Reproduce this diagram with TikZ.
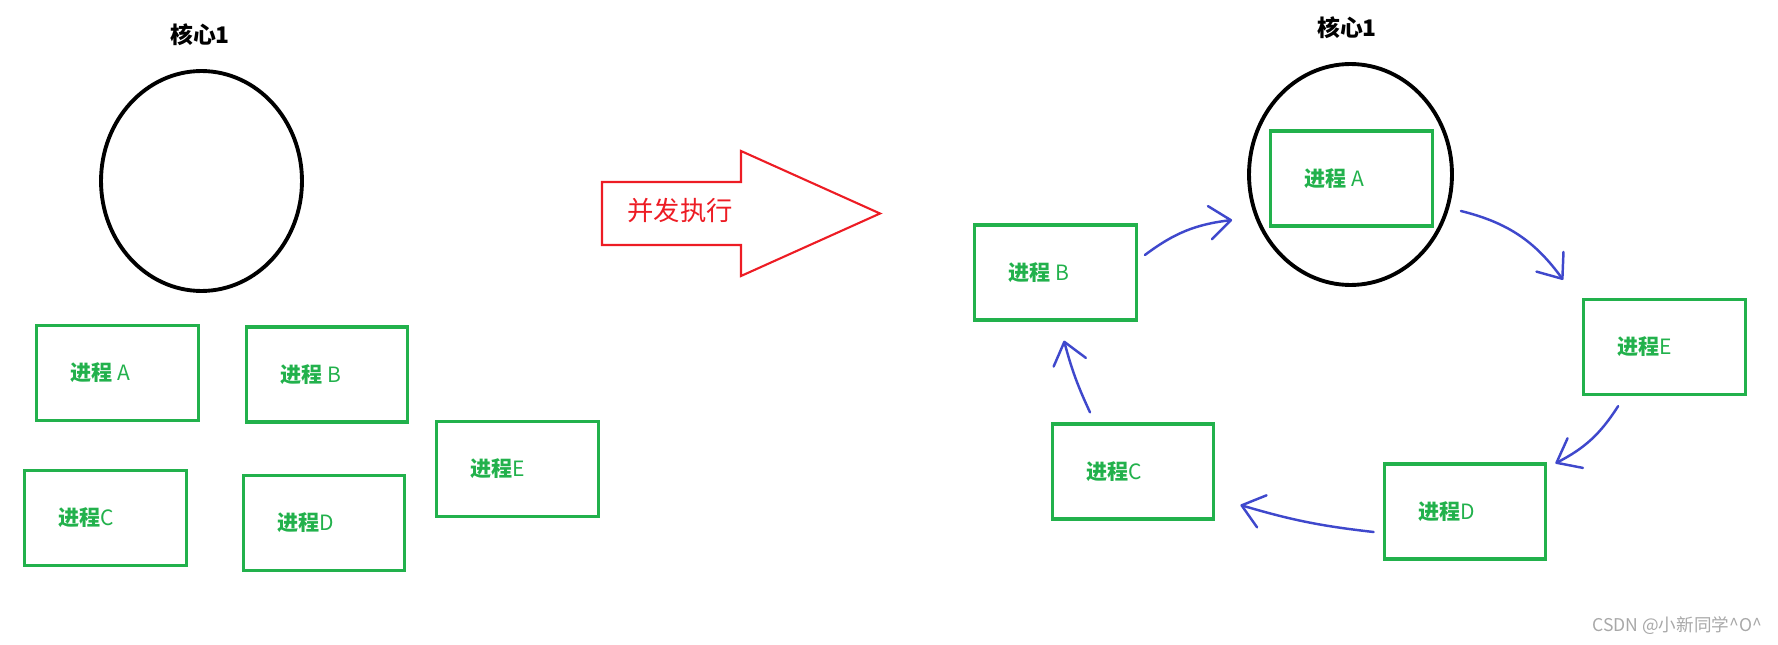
\documentclass[tikz,border=0pt]{standalone}
\usepackage{fontspec}
\newfontfamily\cjk{Noto Sans CJK SC}
\usetikzlibrary{arrows.meta, shapes.geometric}
\definecolor{PaintGreen}{HTML}{22B14C}
\definecolor{PaintRed}{HTML}{ED1C24}
\definecolor{PenBlue}{HTML}{3F48CC}
\definecolor{MarkGray}{HTML}{A8A8A8}

\tikzset{
  proc/.style={draw=PaintGreen, line width=1.9pt, text=PaintGreen,
               font=\cjk\fontsize{12}{14}\selectfont, align=flush left,
               minimum height=1.9cm, inner ysep=0pt,
               text width=1.87cm, inner xsep=0.68cm},
  core/.style={draw, ellipse, line width=2.2pt, inner sep=0pt},
  coretitle/.style={font=\cjk\bfseries\fontsize{13}{15}\selectfont},
  flow/.style={draw=PenBlue, line width=1.4pt, line cap=round,
               -{Straight Barb[length=12pt, width=19pt, round]}}
}

\begin{document}
\begin{tikzpicture}[x=0.02cm, y=-0.02cm]
  \useasboundingbox (0,0) rectangle (1778,645);

  % one core, five processes waiting
  \node[coretitle] (title1) at (200,35) {核心1};
  \node[core, minimum width=4.02cm, minimum height=4.4cm] (core1) at (201.5,181) {};
  \foreach \n/\px/\py/\lbl in {A/117.5/373/{\ A}, B/327/374.5/{\ B}, C/105.5/518/C,
                               D/324/523/D, E/517.5/469/E}{
    \node[proc] (l\n) at (\px,\py) {{\bfseries 进程}\lbl};
  }

  % big arrow
  \draw[PaintRed, line width=1.2pt] (602,182) -- (741,182) -- (741,151) -- (880,213.5)
    -- (741,276) -- (741,245) -- (602,245) -- cycle;
  \node[font=\cjk\fontsize{15}{18}\selectfont, text=PaintRed] (conc) at (680,211) {并发执行};

  % the processes take turns on the core
  \node[coretitle] (title2) at (1347,28) {核心1};
  \node[core, minimum width=4.06cm, minimum height=4.42cm] (core2) at (1350.5,174.5) {};
  \foreach \n/\px/\py/\lbl in {A/1351.5/178.5/{\ A}, B/1055.5/272.5/{\ B}, C/1133/471.5/C,
                               D/1465/511.5/D, E/1664.5/347/E}{
    \node[proc] (r\n) at (\px,\py) {{\bfseries 进程}\lbl};
  }

  \draw[flow] ([shift={(7,-17.5)}]rB.east) to[bend left=15] ([shift={(-15,45.5)}]core2.west);
  \draw[flow] ([shift={(7,36.5)}]core2.east) to[bend left=20] ([shift={(-19,-18)}]rE.north west);
  \draw[flow] ([shift={(36,10)}]rE.south west) to[bend left=15] ([shift={(8,1)}]rD.north east);
  \draw[flow] ([shift={(-9,20.5)}]rD.west) to[bend left=5] ([shift={(25,33.5)}]rC.east);
  \draw[flow] ([shift={(-43,-10)}]rC.north) to[bend left=5] ([shift={(8.5,19)}]rB.south);

  \node[font=\cjk\fontsize{10}{12}\selectfont, text=MarkGray, anchor=east] (mark)
    at (1768,626) {CSDN @小新同学\textasciicircum O\textasciicircum};
\end{tikzpicture}
\end{document}
